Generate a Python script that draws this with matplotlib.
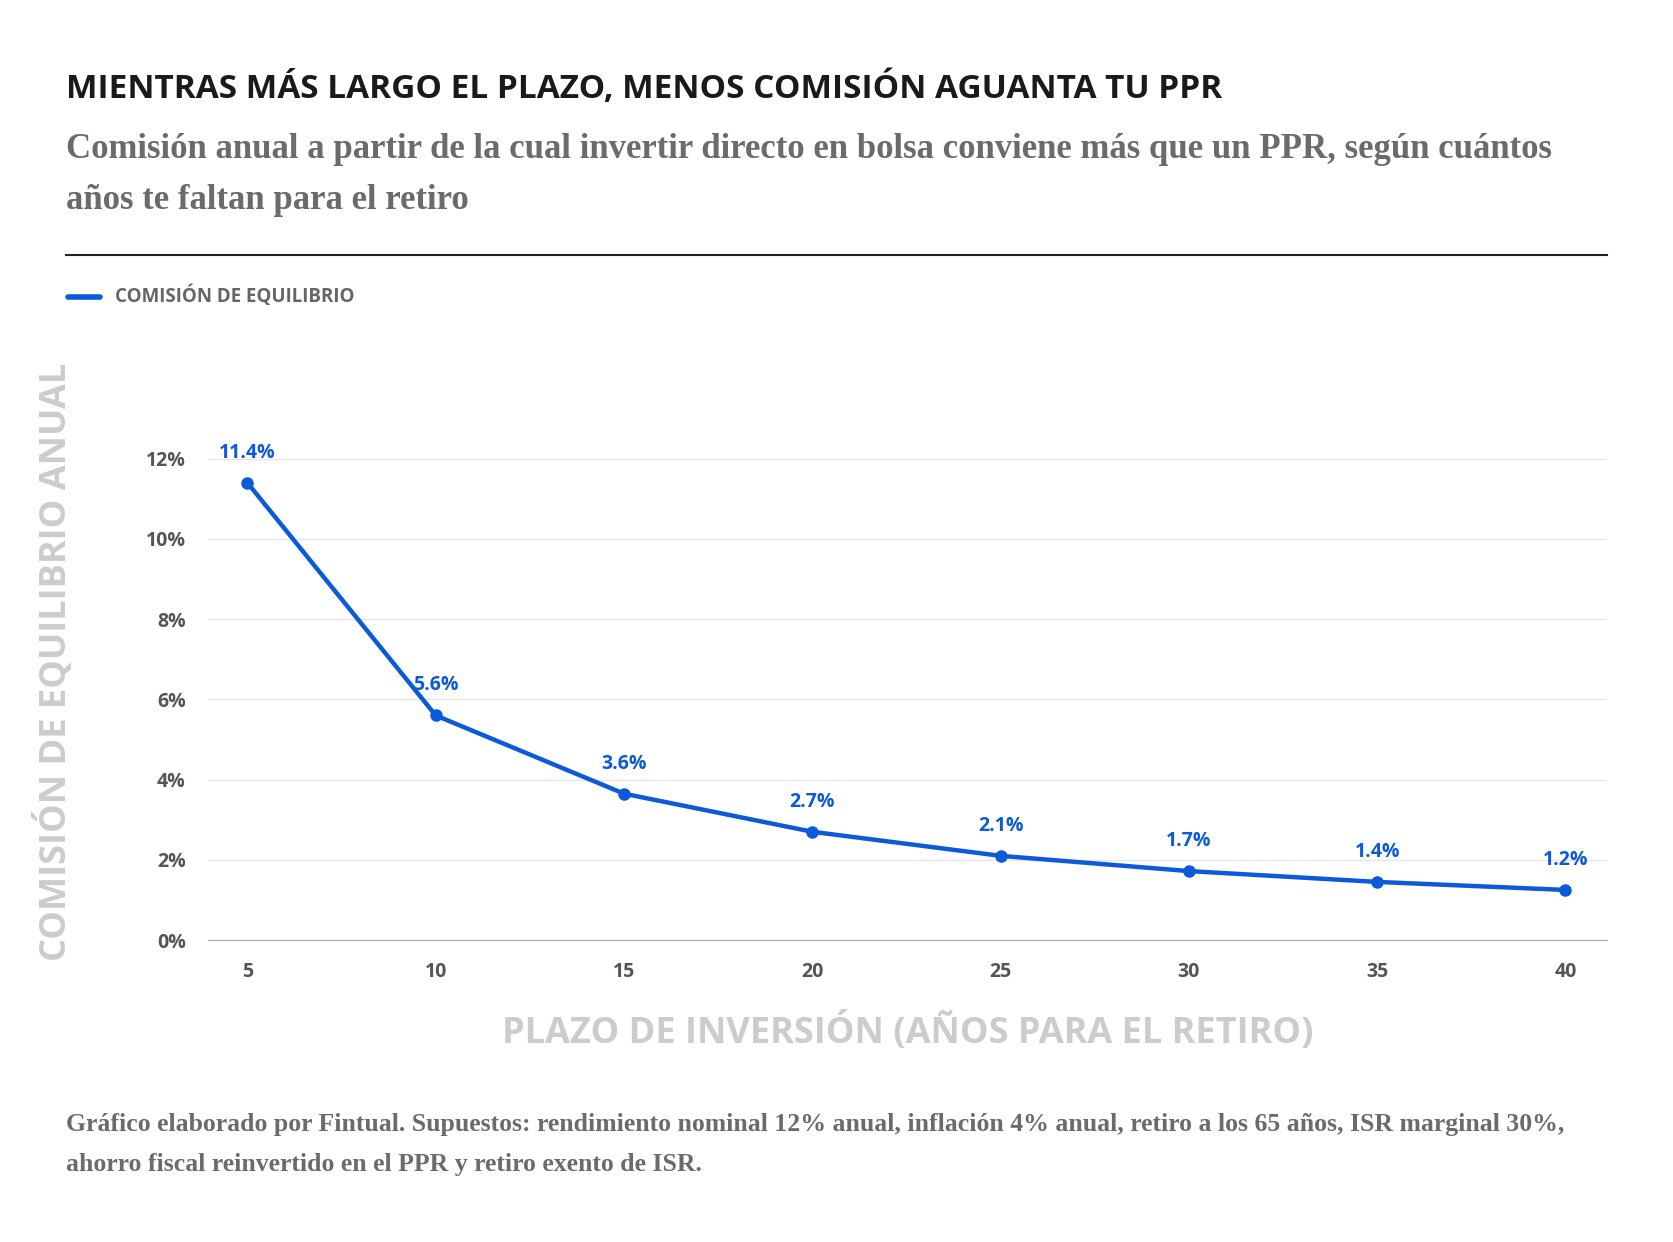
import matplotlib.pyplot as plt
from matplotlib.ticker import FuncFormatter

plazo = [5, 10, 15, 20, 25, 30, 35, 40]
comision = [11.4, 5.6, 3.65, 2.7, 2.1, 1.72, 1.45, 1.25]
etiquetas = ["11.4%", "5.6%", "3.6%", "2.7%", "2.1%", "1.7%", "1.4%", "1.2%"]

azul = "#0A5AD9"
W, H = 1570, 1160

fig = plt.figure(figsize=(16.74, 12.42), dpi=100)
fig.patch.set_facecolor("white")

def fx(px): return px / W
def fy(py): return 1 - py / H

fig.text(fx(62), fy(83), "MIENTRAS MÁS LARGO EL PLAZO, MENOS COMISIÓN AGUANTA TU PPR",
         fontsize=24, fontweight="bold", family="Open Sans", color="#1a1a1a", va="center")
fig.text(fx(62), fy(140), "Comisión anual a partir de la cual invertir directo en bolsa conviene más que un PPR, según cuántos",
         fontsize=25, fontweight="bold", family="Liberation Serif", color="#6b6b6b", va="center")
fig.text(fx(62), fy(187), "años te faltan para el retiro",
         fontsize=25, fontweight="bold", family="Liberation Serif", color="#6b6b6b", va="center")
fig.add_artist(plt.Line2D([fx(62), fx(1507)], [fy(238), fy(238)], color="#222222", lw=1.5))
fig.add_artist(plt.Line2D([fx(64), fx(94)], [fy(277), fy(277)], color=azul, lw=4, solid_capstyle="round"))
fig.text(fx(108), fy(277), "COMISIÓN DE EQUILIBRIO", fontsize=13.5, fontweight="bold",
         family="Open Sans", color="#666666", va="center")

ax = fig.add_axes([fx(195), fy(878), fx(1507) - fx(195), 0.650 - fy(878)])
ax.plot(plazo, comision, color=azul, lw=3.2, marker="o", markersize=8, zorder=3)
for x, y, t in zip(plazo, comision, etiquetas):
    ax.annotate(t, (x, y), xytext=(0, 18), textcoords="offset points", ha="center",
                fontsize=14, fontweight="bold", family="Open Sans", color=azul)

ax.set_xlim(3.95, 41.1)
ax.set_ylim(0, 12.6)
ax.set_xticks(plazo)
ax.set_yticks(range(0, 13, 2))
ax.yaxis.set_major_formatter(FuncFormatter(lambda v, p: f"{v:.0f}%"))
ax.grid(axis="y", color="#e6e6e6", lw=1)
ax.set_axisbelow(True)
for s in ["top", "right", "left"]:
    ax.spines[s].set_visible(False)
ax.spines["bottom"].set_color("#aaaaaa")
ax.tick_params(length=0, labelsize=14, labelcolor="#555555", pad=16)
for lab in ax.get_xticklabels() + ax.get_yticklabels():
    lab.set_fontweight("bold")
    lab.set_family("Open Sans")

ax.set_xlabel("PLAZO DE INVERSIÓN (AÑOS PARA EL RETIRO)", fontsize=26, fontweight="bold",
              family="Open Sans", color="#cccccc", labelpad=22)
ax.set_ylabel("COMISIÓN DE EQUILIBRIO ANUAL", fontsize=26, fontweight="bold",
              family="Open Sans", color="#cccccc")
ax.yaxis.set_label_coords(-0.095, 0.55)

fig.text(fx(62), fy(1050), "Gráfico elaborado por Fintual. Supuestos: rendimiento nominal 12% anual, inflación 4% anual, retiro a los 65 años, ISR marginal 30%,",
         fontsize=18.5, fontweight="bold", family="Liberation Serif", color="#6b6b6b", va="center")
fig.text(fx(62), fy(1088), "ahorro fiscal reinvertido en el PPR y retiro exento de ISR.",
         fontsize=18.5, fontweight="bold", family="Liberation Serif", color="#6b6b6b", va="center")

fig.savefig("out.png", dpi=100)
